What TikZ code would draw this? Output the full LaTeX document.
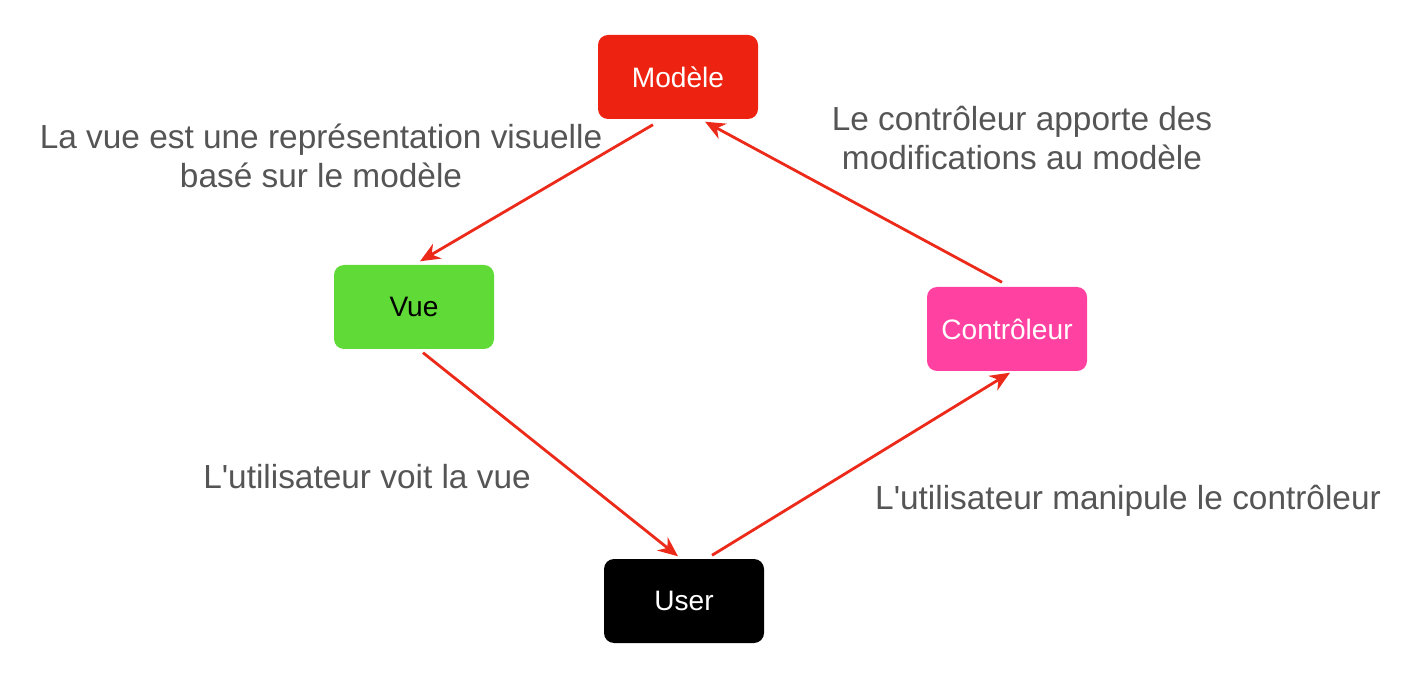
\documentclass[tikz,border=0pt]{standalone}
\usepackage{fontspec}
\setmainfont{Liberation Sans}[Ligatures=TeXOff]
\usetikzlibrary{arrows.meta}
\definecolor{modelred}{HTML}{EE2211}
\definecolor{vuegreen}{HTML}{5FDA36}
\definecolor{ctrlpink}{HTML}{FF42A1}
\definecolor{labelgray}{HTML}{555555}
\definecolor{arrowred}{HTML}{EC2A1A}
\begin{document}
\begin{tikzpicture}[>={Stealth[length=0.4cm,width=0.34cm]},thick,
	box/.style={rounded corners=0.2cm,minimum width=3.2cm,minimum height=1.68cm,inner sep=0pt,font=\fontsize{16}{19}\selectfont},
	label text/.style={text=labelgray,align=center,font=\fontsize{19}{22.5}\selectfont},
	link/.style={->,draw=arrowred,line width=1.6pt}]

		\useasboundingbox (0,0) rectangle (28.54,-13.66);

		\node (model) [box,fill=modelred,text=white] at (13.56,-1.54) {Modèle};
		\node (vue) [box,fill=vuegreen,text=black] at (8.28,-6.14) {Vue};
		\node (ctrl) [box,fill=ctrlpink,text=white] at (20.14,-6.58) {Contrôleur};
		\node (user) [box,fill=black,text=white] at (13.68,-12.02) {User};

		\node (lvue) [label text] at (6.42,-3.12) {La vue est une représentation visuelle\\basé sur le modèle};
		\node (lctrl) [label text] at (20.44,-2.76) {Le contrôleur apporte des\\modifications au modèle};
		\node (lvoit) [label text] at (7.34,-9.54) {L'utilisateur voit la vue};
		\node (lmanip) [label text] at (22.56,-10.02) {L'utilisateur manipule le contrôleur};

		\draw[link] ([xshift=-0.5cm,yshift=-0.1cm]model.south) to ([xshift=0.12cm,yshift=0.06cm]vue.north);
		\draw[link] ([xshift=-0.1cm,yshift=0.08cm]ctrl.north) to ([xshift=0.54cm,yshift=-0.04cm]model.south);
		\draw[link] ([xshift=0.18cm,yshift=-0.06cm]vue.south) to ([xshift=-0.12cm,yshift=0.04cm]user.north);
		\draw[link] ([xshift=0.56cm,yshift=0.06cm]user.north) to ([xshift=0.06cm,yshift=-0.02cm]ctrl.south);

	\end{tikzpicture}
\end{document}
